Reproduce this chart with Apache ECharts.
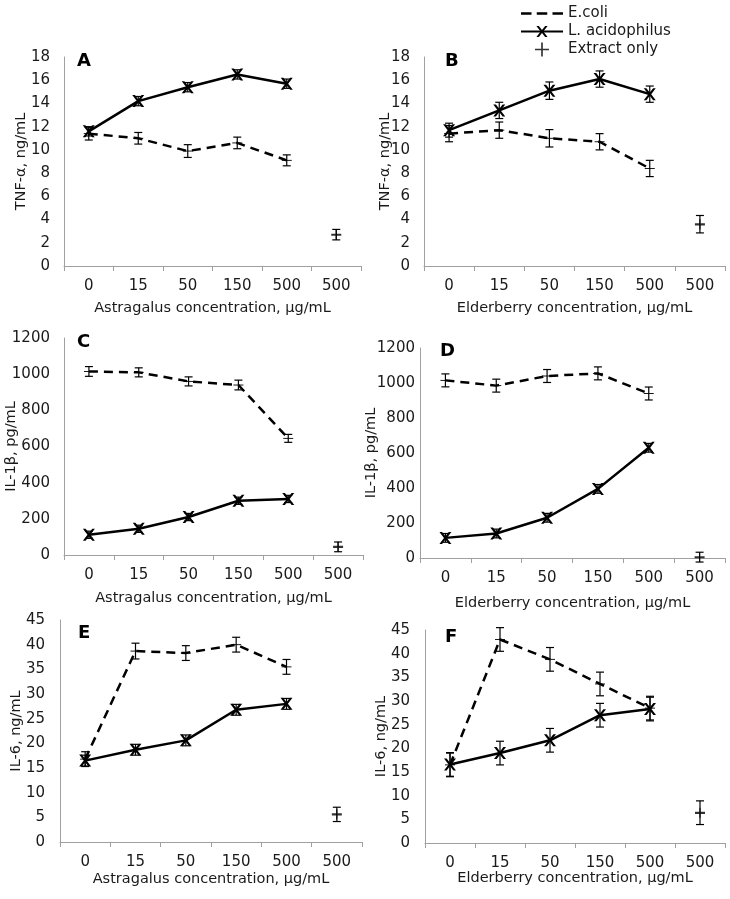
<!DOCTYPE html>
<html>
<head>
<meta charset="utf-8">
<script src="https://cdn.jsdelivr.net/npm/echarts@6/dist/echarts.min.js"></script>
<style>
html,body{margin:0;padding:0;background:#fff;}
#chart{width:730px;height:899px;}
</style>
</head>
<body>
<div id="chart"></div>
<script>
// ---- data ----
const categories = ['0', '15', '50', '150', '500', '500'];
const seriesNames = ['E.coli', 'L. acidophilus', 'Extract only'];
const panelLetters = ['A', 'B', 'C', 'D', 'E', 'F'];
const yTitles = ['TNF-α, ng/mL', 'TNF-α, ng/mL', 'IL-1β, pg/mL', 'IL-1β, pg/mL', 'IL-6, ng/mL', 'IL-6, ng/mL'];
const xTitles = ['Astragalus concentration, μg/mL', 'Elderberry concentration, μg/mL',
                 'Astragalus concentration, μg/mL', 'Elderberry concentration, μg/mL',
                 'Astragalus concentration, μg/mL', 'Elderberry concentration, μg/mL'];
const yMax = [18, 18, 1200, 1200, 45, 45];
const yStep = [2, 2, 200, 200, 5, 5];

// Panel A: TNF-α, Astragalus
const aEcoli = [11.4, 11.0, 9.9, 10.6, 9.1];
const aEcoliErr = [0.55, 0.5, 0.55, 0.5, 0.47];
const aLacid = [11.6, 14.2, 15.4, 16.5, 15.7];
const aLacidErr = [0.4, 0.4, 0.4, 0.4, 0.4];
const aExtract = 2.7, aExtractErr = 0.45;
// Panel B: TNF-α, Elderberry
const bEcoli = [11.4, 11.7, 11.0, 10.7, 8.4];
const bEcoliErr = [0.7, 0.7, 0.75, 0.7, 0.7];
const bLacid = [11.7, 13.4, 15.1, 16.1, 14.8];
const bLacidErr = [0.6, 0.7, 0.75, 0.7, 0.7];
const bExtract = 3.6, bExtractErr = 0.75;
// Panel C: IL-1β, Astragalus
const cEcoli = [1015, 1010, 960, 940, 645];
const cEcoliErr = [27, 25, 25, 27, 22];
const cLacid = [112, 145, 210, 300, 310];
const cLacidErr = [20, 20, 20, 20, 20];
const cExtract = 45, cExtractErr = 27;
// Panel D: IL-1β, Elderberry
const dEcoli = [1015, 985, 1040, 1055, 940];
const dEcoliErr = [37, 37, 37, 37, 37];
const dLacid = [115, 140, 230, 395, 630];
const dLacidErr = [25, 25, 25, 25, 25];
const dExtract = 5, dExtractErr = 28;
// Panel E: IL-6, Astragalus
const eEcoli = [16.8, 38.7, 38.3, 40.0, 35.5];
const eEcoliErr = [1.5, 1.6, 1.5, 1.5, 1.5];
const eLacid = [16.5, 18.7, 20.6, 26.8, 28.0];
const eLacidErr = [1.1, 1.1, 1.1, 1.1, 1.1];
const eExtract = 5.6, eExtractErr = 1.45;
// Panel F: IL-6, Elderberry
const fEcoli = [16.5, 43.0, 38.8, 33.6, 28.5];
const fEcoliErr = [2.5, 2.5, 2.5, 2.5, 2.5];
const fLacid = [16.6, 19.0, 21.7, 27.0, 28.3];
const fLacidErr = [2.5, 2.5, 2.5, 2.5, 2.5];
const fExtract = 6.4, fExtractErr = 2.5;

const panels = [
  [aEcoli, aEcoliErr, aLacid, aLacidErr, aExtract, aExtractErr],
  [bEcoli, bEcoliErr, bLacid, bLacidErr, bExtract, bExtractErr],
  [cEcoli, cEcoliErr, cLacid, cLacidErr, cExtract, cExtractErr],
  [dEcoli, dEcoliErr, dLacid, dLacidErr, dExtract, dExtractErr],
  [eEcoli, eEcoliErr, eLacid, eLacidErr, eExtract, eExtractErr],
  [fEcoli, fEcoliErr, fLacid, fLacidErr, fExtract, fExtractErr]
];

// ---- layout ----
const gridBoxes = [
  {left: 64, top: 57, width: 297, height: 209},
  {left: 424, top: 57, width: 301, height: 209},
  {left: 64, top: 338, width: 299, height: 217},
  {left: 420, top: 348, width: 305, height: 210},
  {left: 60, top: 620, width: 302, height: 222},
  {left: 425, top: 630, width: 300, height: 213}
];
const yNameGap = [35, 31, 45, 41, 36, 36];
const yLabelMargin = [14, 14, 14, 5, 15, 15];
const xNameGap = [35, 35, 36, 38, 30, 28];
const letterPos = [[77, 52], [445, 52], [77, 333], [440, 342], [78, 624], [445, 628]];

const FONT = 'DejaVu Sans';
const TXT = '#1a1a1a';
const AX = '#a0a0a0';

const xSymbol = 'path://M0,0 L2.2,0 L5,3.6 L7.8,0 L10,0 L6.2,5 L10,10 L7.8,10 L5,6.4 L2.2,10 L0,10 L3.8,5 Z';
const dashSymbol = 'path://M0,0 H10 V3 H0 Z';
const plusSymbol = 'path://M0,4 H4.4 V0 H5.6 V4 H10 V6.2 H5.6 V10 H4.4 V6.2 H0 Z';
const dashedLegendIcon = 'path://M0,0 H10 V2.6 H0 Z M15,0 H25 V2.6 H15 Z M30,0 H40 V2.6 H30 Z';
const plusLegendIcon = 'path://M0,4.4 H4.4 V0 H5.6 V4.4 H10 V5.6 H5.6 V10 H4.4 V5.6 H0 Z';

const grid = [], xAxis = [], yAxis = [], series = [], title = [];

panels.forEach((p, i) => {
  const [ec, ecErr, la, laErr, ex, exErr] = p;
  grid.push(Object.assign({containLabel: false, outerBoundsMode: 'none'}, gridBoxes[i]));
  xAxis.push({
    type: 'category', gridIndex: i, data: categories,
    boundaryGap: true,
    axisLine: {lineStyle: {color: AX, width: 1}},
    axisTick: {show: true, length: 5, lineStyle: {color: AX}},
    axisLabel: {color: TXT, fontFamily: FONT, fontSize: 15, margin: 13, interval: 0},
    name: xTitles[i], nameLocation: 'middle', nameGap: xNameGap[i], nameMoveOverlap: false,
    nameTextStyle: {color: TXT, fontFamily: FONT, fontSize: 14.5}
  });
  yAxis.push({
    type: 'value', gridIndex: i, min: 0, max: yMax[i], interval: yStep[i],
    axisLine: {show: true, lineStyle: {color: AX, width: 1}},
    axisTick: {show: false},
    splitLine: {show: false},
    axisLabel: {color: TXT, fontFamily: FONT, fontSize: 15, margin: yLabelMargin[i],
                formatter: v => String(v)},
    name: yTitles[i], nameLocation: 'middle', nameGap: yNameGap[i], nameRotate: 90,
    nameMoveOverlap: false,
    nameTextStyle: {color: TXT, fontFamily: FONT, fontSize: 14.5}
  });
  title.push({
    text: panelLetters[i], left: letterPos[i][0], top: letterPos[i][1],
    textStyle: {fontFamily: FONT, fontWeight: 'bold', fontSize: 18, color: '#000'}, padding: 0
  });

  const errData = [];
  ec.forEach((v, k) => errData.push([k, v - ecErr[k], v + ecErr[k]]));
  la.forEach((v, k) => errData.push([k, v - laErr[k], v + laErr[k]]));
  errData.push([5, ex - exErr, ex + exErr]);

  series.push({
    type: 'custom', xAxisIndex: i, yAxisIndex: i, silent: true, z: 3,
    encode: {x: 0, y: [1, 2]},
    data: errData,
    renderItem: function (params, api) {
      const x = api.value(0);
      const lo = api.coord([x, api.value(1)]);
      const hi = api.coord([x, api.value(2)]);
      const w = 4;
      const st = {stroke: '#000', lineWidth: 1.2};
      return {
        type: 'group',
        children: [
          {type: 'line', shape: {x1: lo[0], y1: lo[1], x2: hi[0], y2: hi[1]}, style: st},
          {type: 'line', shape: {x1: lo[0] - w, y1: lo[1], x2: lo[0] + w, y2: lo[1]}, style: st},
          {type: 'line', shape: {x1: hi[0] - w, y1: hi[1], x2: hi[0] + w, y2: hi[1]}, style: st}
        ]
      };
    }
  });
  series.push({
    name: seriesNames[0], type: 'line', xAxisIndex: i, yAxisIndex: i, z: 4,
    data: ec.map((v, k) => [k, v]),
    symbol: dashSymbol, symbolSize: [10, 3], symbolKeepAspect: true,
    itemStyle: {color: '#000'},
    lineStyle: {color: '#000', width: 2.5, type: [9, 6]},
    animation: false
  });
  series.push({
    name: seriesNames[1], type: 'line', xAxisIndex: i, yAxisIndex: i, z: 5,
    data: la.map((v, k) => [k, v]),
    symbol: xSymbol, symbolSize: 12, symbolKeepAspect: true,
    itemStyle: {color: '#000'},
    lineStyle: {color: '#000', width: 2.5},
    animation: false
  });
  series.push({
    name: seriesNames[2], type: 'scatter', xAxisIndex: i, yAxisIndex: i, z: 5,
    data: [[5, ex]],
    symbol: plusSymbol, symbolSize: 10, symbolKeepAspect: true,
    itemStyle: {color: '#000'},
    animation: false
  });
});

const chart = echarts.init(document.getElementById('chart'), null, {renderer: 'canvas'});
chart.setOption({
  backgroundColor: '#fff',
  animation: false,
  title: title,
  legend: {
    data: [
      {name: seriesNames[0], icon: dashedLegendIcon},
      {name: seriesNames[1]},
      {name: seriesNames[2], icon: plusLegendIcon}
    ],
    orient: 'vertical', left: 520, top: 6, padding: 0,
    itemWidth: 42, itemHeight: 14, itemGap: 3, selectedMode: false, symbolKeepAspect: true,
    textStyle: {color: TXT, fontFamily: FONT, fontSize: 15}
  },
  grid: grid, xAxis: xAxis, yAxis: yAxis, series: series
});
</script>
</body>
</html>
